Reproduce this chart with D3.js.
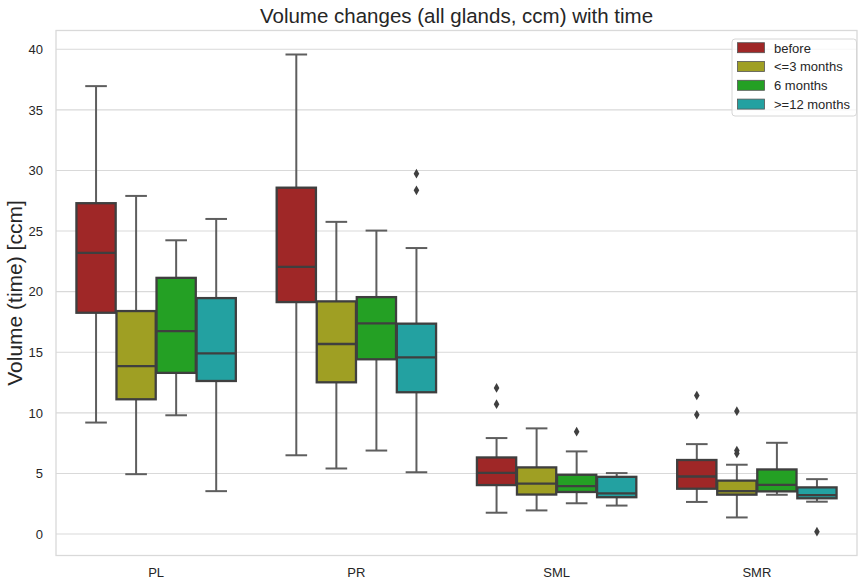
<!DOCTYPE html>
<html>
<head>
<meta charset="utf-8">
<script src="https://cdn.jsdelivr.net/npm/d3@7"></script>
<style>
  body { margin: 0; background: #fff; }
  svg { display: block; font-family: "Liberation Sans", Arial, sans-serif; }
</style>
</head>
<body>
<svg id="chart" width="858" height="580"></svg>
<script>
// ── data ──────────────────────────────────────────────
const glands = ["PL", "PR", "SML", "SMR"];
const periods = ["before", "<=3 months", "6 months", ">=12 months"];
const colors = ["#9f2727", "#9f9f23", "#24a024", "#23a1a1"];
const yTicks = [0, 5, 10, 15, 20, 25, 30, 35, 40];

// per period (rows), per gland (columns)
const whiskerLow = [
  [9.2, 6.5, 1.76, 2.65],
  [4.94, 5.41, 1.95, 1.37],
  [9.8, 6.89, 2.54, 3.24],
  [3.54, 5.1, 2.35, 2.67],
];
const quart1 = [
  [18.26, 19.14, 4.04, 3.74],
  [11.12, 12.52, 3.26, 3.25],
  [13.3, 14.42, 3.47, 3.52],
  [12.63, 11.7, 3.04, 2.95],
];
const median = [
  [23.2, 22.05, 5.05, 4.75],
  [13.86, 15.68, 4.16, 3.54],
  [16.75, 17.38, 3.95, 4.05],
  [14.9, 14.58, 3.36, 3.22],
];
const quart3 = [
  [27.3, 28.58, 6.32, 6.11],
  [18.4, 19.2, 5.5, 4.41],
  [21.14, 19.55, 4.89, 5.33],
  [19.47, 17.36, 4.72, 3.85],
];
const whiskerHigh = [
  [36.96, 39.57, 7.92, 7.42],
  [27.9, 25.76, 8.72, 5.72],
  [24.24, 25.04, 6.82, 7.53],
  [26.0, 23.6, 5.03, 4.53],
];
// [gland, period index, value]
const outliers = [
  ["PR", 3, 29.74], ["PR", 3, 28.36],
  ["SML", 0, 12.06], ["SML", 0, 10.72], ["SML", 2, 8.45],
  ["SMR", 0, 11.43], ["SMR", 0, 9.84],
  ["SMR", 1, 10.14], ["SMR", 1, 6.9], ["SMR", 1, 6.65],
  ["SMR", 3, 0.2],
];

// ── layout ────────────────────────────────────────────
const svg = d3.select("#chart");
const margin = { top: 30.5, right: 1, bottom: 24.5, left: 56 };
const width = 858, height = 580;
const innerWidth = width - margin.left - margin.right;
const innerHeight = height - margin.top - margin.bottom;
const edgeColor = "#3f3f3f";
const whiskerColor = "#5e5e5e";
const gridColor = "#d9d9d9";
const textColor = "#262626";

const xScale = d3.scaleBand().domain(glands).range([0, innerWidth]);
const hueScale = d3.scaleBand().domain(periods)
  .range([xScale.bandwidth() * 0.1, xScale.bandwidth() * 0.9]);
const yScale = d3.scaleLinear().domain([-1.77, 41.55]).range([innerHeight, 0]);

const group = svg.append("g")
  .attr("transform", `translate(${margin.left},${margin.top})`);

// grid lines
group.append("g")
  .selectAll("line")
  .data(yTicks)
  .join("line")
  .attr("x1", 0)
  .attr("x2", innerWidth)
  .attr("y1", (d) => yScale(d))
  .attr("y2", (d) => yScale(d))
  .attr("stroke", gridColor)
  .attr("stroke-width", 1.1);

// frame
group.append("rect")
  .attr("width", innerWidth)
  .attr("height", innerHeight)
  .attr("fill", "none")
  .attr("stroke", gridColor)
  .attr("stroke-width", 1.3);

// axes
const yAxis = group.append("g")
  .call(d3.axisLeft(yScale).tickValues(yTicks).tickSize(0).tickPadding(13));
yAxis.select(".domain").remove();
yAxis.selectAll("text")
  .attr("font-family", "Liberation Sans, Arial, sans-serif")
  .attr("font-size", 13)
  .attr("fill", textColor);

const xAxis = group.append("g")
  .attr("transform", `translate(0,${innerHeight})`)
  .call(d3.axisBottom(xScale).tickSize(0).tickPadding(12));
xAxis.select(".domain").remove();
xAxis.selectAll("text")
  .attr("font-family", "Liberation Sans, Arial, sans-serif")
  .attr("font-size", 13)
  .attr("fill", textColor);

// y label + title
svg.append("text")
  .attr("transform", "rotate(-90)")
  .attr("x", -293)
  .attr("y", 22)
  .attr("text-anchor", "middle")
  .attr("font-size", 21)
  .attr("fill", textColor)
  .text("Volume (time) [ccm]");
svg.append("text")
  .attr("x", margin.left + innerWidth / 2)
  .attr("y", 23)
  .attr("text-anchor", "middle")
  .attr("font-size", 20.5)
  .attr("fill", textColor)
  .text("Volume changes (all glands, ccm) with time");

// boxes
const boxW = hueScale.bandwidth() * 0.98;
const capW = boxW * 0.5;
const boxes = [];
periods.forEach((p, pi) => {
  glands.forEach((g, gi) => {
    boxes.push({
      gland: g, pi,
      cx: xScale(g) + hueScale(p) + hueScale.bandwidth() / 2,
      lo: whiskerLow[pi][gi], q1: quart1[pi][gi], med: median[pi][gi],
      q3: quart3[pi][gi], hi: whiskerHigh[pi][gi],
    });
  });
});

const boxGroup = group.append("g")
  .selectAll("g")
  .data(boxes)
  .join("g");

// whiskers
boxGroup.append("line")
  .attr("x1", (d) => d.cx).attr("x2", (d) => d.cx)
  .attr("y1", (d) => yScale(d.q3)).attr("y2", (d) => yScale(d.hi))
  .attr("stroke", whiskerColor).attr("stroke-width", 2);
boxGroup.append("line")
  .attr("x1", (d) => d.cx).attr("x2", (d) => d.cx)
  .attr("y1", (d) => yScale(d.q1)).attr("y2", (d) => yScale(d.lo))
  .attr("stroke", whiskerColor).attr("stroke-width", 2);
// caps
["hi", "lo"].forEach((k) => {
  boxGroup.append("line")
    .attr("x1", (d) => d.cx - capW / 2).attr("x2", (d) => d.cx + capW / 2)
    .attr("y1", (d) => yScale(d[k])).attr("y2", (d) => yScale(d[k]))
    .attr("stroke", whiskerColor).attr("stroke-width", 2)
    .attr("stroke-linecap", "square");
});
// box body
boxGroup.append("rect")
  .attr("x", (d) => d.cx - boxW / 2)
  .attr("width", boxW)
  .attr("y", (d) => yScale(d.q3))
  .attr("height", (d) => yScale(d.q1) - yScale(d.q3))
  .attr("fill", (d) => colors[d.pi])
  .attr("stroke", edgeColor)
  .attr("stroke-width", 2.3);
// median
boxGroup.append("line")
  .attr("x1", (d) => d.cx - boxW / 2).attr("x2", (d) => d.cx + boxW / 2)
  .attr("y1", (d) => yScale(d.med)).attr("y2", (d) => yScale(d.med))
  .attr("stroke", edgeColor).attr("stroke-width", 2.3);

// outliers (thin diamonds)
group.append("g")
  .selectAll("path")
  .data(outliers)
  .join("path")
  .attr("transform", (d) =>
    `translate(${xScale(d[0]) + hueScale(periods[d[1]]) + hueScale.bandwidth() / 2},${yScale(d[2])})`)
  .attr("d", "M0,-4.8L2.8,0L0,4.8L-2.8,0Z")
  .attr("fill", edgeColor);

// legend
const legend = svg.append("g").attr("transform", "translate(732,39)");
legend.append("rect")
  .attr("width", 124.5)
  .attr("height", 77)
  .attr("rx", 3)
  .attr("fill", "rgba(255,255,255,0.8)")
  .attr("stroke", "#d6d6d6")
  .attr("stroke-width", 1);
const legendItem = legend.selectAll("g.item")
  .data(periods)
  .join("g")
  .attr("class", "item")
  .attr("transform", (d, i) => `translate(0,${3.7 + i * 18.8})`);
legendItem.append("rect")
  .attr("x", 5.5)
  .attr("width", 27)
  .attr("height", 10)
  .attr("fill", (d, i) => colors[i])
  .attr("stroke", "#555")
  .attr("stroke-width", 0.8);
legendItem.append("text")
  .attr("x", 42)
  .attr("y", 9.8)
  .attr("font-size", 13)
  .attr("fill", textColor)
  .text((d) => d);
</script>
</body>
</html>
